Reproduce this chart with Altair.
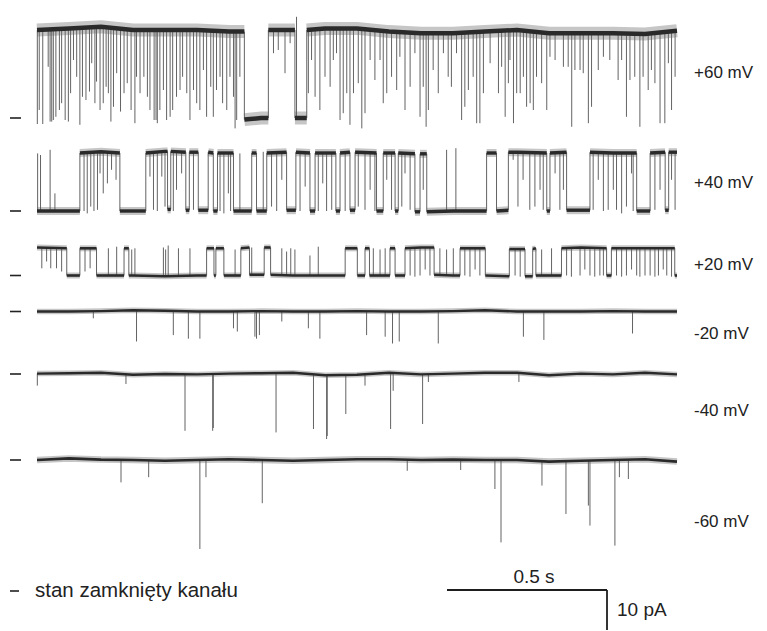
import altair as alt
import pandas as pd

# ---------------- data ----------------
trace_names = ["+60 mV", "+40 mV", "+20 mV", "-20 mV", "-40 mV", "-60 mV"]
open_pA = [22.0, 14.5, 6.8, -7.0, -14.5, -22.0]  # unitary open-channel current
record_s = 2.0
wobble_step_s = 0.1

# open-state dwell intervals (s); everything else is the closed state
p60_open = [(0.0, 0.648), (0.723, 0.806), (0.843, 2.0)]
p40_open = [(0.134, 0.259), (0.340, 0.408), (0.418, 0.465), (0.476, 0.504), (0.535, 0.551),
            (0.564, 0.614), (0.671, 0.686), (0.718, 0.780), (0.809, 0.853), (0.869, 0.934),
            (0.947, 0.978), (0.994, 1.061), (1.082, 1.119), (1.129, 1.181), (1.197, 1.218),
            (1.405, 1.436), (1.473, 1.593), (1.603, 1.655), (1.728, 1.874), (1.916, 1.963),
            (1.974, 2.0)]
p20_open = [(0.0, 0.093), (0.134, 0.186), (0.272, 0.287), (0.530, 0.553), (0.559, 0.584),
            (0.637, 0.664), (0.710, 0.730), (0.963, 1.001), (1.025, 1.039), (1.103, 1.119),
            (1.150, 1.241), (1.322, 1.401), (1.476, 1.525), (1.549, 1.559), (1.639, 1.780),
            (1.795, 1.993)]
m20_open = []
m40_open = []
m60_open = []

# brief events: (time s, current reached pA)
p60_events = [(0.001, -1.5), (0.007, 2), (0.018, -1.5), (0.035, 12.8), (0.041, -0.9), (0.046, -0.9),
              (0.051, -0.5), (0.059, 0.3), (0.070, 2), (0.077, 3.7), (0.088, -0.5), (0.098, -0.9),
              (0.105, 6.2), (0.114, 14.5), (0.124, 10.3), (0.134, -1.7), (0.142, 5.3), (0.153, 4.5),
              (0.164, 6.6), (0.171, 13.7), (0.181, 3.7), (0.186, 9.1), (0.197, 2), (0.207, 3.7),
              (0.216, 7.8), (0.223, 6.2), (0.231, -0.9), (0.239, 2.8), (0.249, 11.2), (0.261, 1.6),
              (0.272, 6.2), (0.282, 8.7), (0.294, 2), (0.306, -1.3), (0.311, 10.3), (0.322, 6.2),
              (0.334, 10.3), (0.345, 5.3), (0.353, 2), (0.366, -0.5), (0.372, -0.5), (0.376, -1.3),
              (0.384, 2), (0.395, 7), (0.405, -0.5), (0.416, 0.3), (0.424, 2), (0.436, 5.3),
              (0.447, 7), (0.455, 10.3), (0.468, 6.2), (0.478, -0.5), (0.489, 7), (0.499, 3.7),
              (0.509, 2), (0.520, 12), (0.530, 0.3), (0.543, 7.8), (0.551, 0.3), (0.561, 7),
              (0.572, 10.3), (0.580, 3.7), (0.593, 2), (0.603, 10.3), (0.614, 5.3), (0.619, -2.6),
              (0.624, -0.5), (0.634, 10.3), (0.739, 16.2), (0.754, 17), (0.775, 11.2), (0.791, 18.7),
              (0.811, 25.3), (0.848, 6.2), (0.858, 14.5), (0.869, 5.3), (0.884, 2), (0.900, 10.3),
              (0.916, 7.8), (0.926, 14.5), (0.936, 16.2), (0.947, -0.5), (0.957, 1.2), (0.968, 6.2),
              (0.978, -1.7), (0.989, 6.2), (1.004, 8.7), (1.015, -2.6), (1.025, 1.2), (1.041, 14.5),
              (1.056, 9.5), (1.072, 14.5), (1.082, 3.7), (1.093, 6.2), (1.108, 10.3), (1.124, 7),
              (1.134, 15.3), (1.150, 2), (1.166, 7.8), (1.181, 16.2), (1.197, 0.3), (1.207, 7.8),
              (1.216, -2.2), (1.223, 2), (1.238, 12), (1.254, 6.2), (1.270, 16.2), (1.285, 10.3),
              (1.295, 7.8), (1.311, 16.2), (1.327, -0.5), (1.337, 2.8), (1.348, 7), (1.363, 10.3),
              (1.374, -1.3), (1.384, -1.3), (1.395, 6.2), (1.416, 13.7), (1.442, 6.2), (1.452, 12.8),
              (1.463, 0.3), (1.473, 8.7), (1.478, 14.5), (1.489, -1.3), (1.499, 6.2), (1.510, 6.2),
              (1.520, 10.3), (1.530, 2.8), (1.541, 3.7), (1.551, 2), (1.561, 10.3), (1.577, 8.7),
              (1.593, 2), (1.603, 15.3), (1.619, 14.5), (1.645, 12.8), (1.660, 12.8), (1.671, -2.2),
              (1.681, 12), (1.697, 12), (1.707, 11.2), (1.723, -1.3), (1.733, 2.8), (1.754, 12),
              (1.770, 15.3), (1.790, 14.5), (1.816, 9.5), (1.827, 14.5), (1.842, 0.3), (1.853, 9.5),
              (1.868, 10.3), (1.884, -2.2), (1.894, 10.3), (1.910, 7), (1.920, 12), (1.931, 8.7),
              (1.947, -1.3), (1.962, -1.3), (1.973, 13.7), (1.983, 2), (1.994, 10.3)]
p40_events = [(0.002, 14.4), (0.011, 14.0), (0.041, 15.3), (0.056, 4.4), (0.147, 0), (0.157, -0.6),
              (0.168, 1.1), (0.178, 0), (0.189, 0.3), (0.197, 9.4), (0.207, 4.4), (0.220, 6.9),
              (0.233, 10.3), (0.247, 7.8), (0.353, 8.6), (0.364, 0.3), (0.376, 0), (0.390, 8.6),
              (0.400, 1.1), (0.426, 0), (0.436, 5.3), (0.452, 9.4), (0.489, 0.3), (0.572, 0),
              (0.584, -0.6), (0.598, 4.4), (0.605, 0), (0.634, 14.4), (0.707, 14.8), (0.733, 1.1),
              (0.749, 0), (0.765, 7.8), (0.822, 0), (0.838, 6.1), (0.879, 0), (0.893, 6.9),
              (0.905, 0), (0.921, 0.3), (0.963, 0), (1.004, 1.1), (1.025, 0.3), (1.041, 5.3),
              (1.056, 0), (1.093, 7.8), (1.108, 0.3), (1.140, 1.1), (1.150, 9.4), (1.166, 0.3),
              (1.207, 5.3), (1.280, 15.3), (1.309, 15.7), (1.488, 12.8), (1.503, 1.1), (1.519, 7.8),
              (1.540, 0.3), (1.556, 1.1), (1.572, 5.3), (1.582, 0.3), (1.619, 9.4), (1.634, 0.3),
              (1.645, 5.3), (1.738, 0.3), (1.754, 7.8), (1.770, 0), (1.785, 0.3), (1.801, 5.3),
              (1.811, 0.3), (1.827, -0.6), (1.842, 1.1), (1.858, 9.4), (1.863, 0), (1.931, 0.3),
              (1.947, 5.3), (1.983, 7.8), (1.994, 0.3)]
p20_events = [(0.223, 6.8), (0.249, 7.2), (0.296, 6.5), (0.306, 6.8), (0.395, 7.0), (0.402, 6.5),
              (0.410, 7.5), (0.442, 6.8), (0.478, 6.8), (0.619, 6.5), (0.671, 7.0), (0.765, 6.8),
              (0.780, 6.0), (0.793, 6.8), (0.806, 6.5), (0.853, 5.0), (0.879, 7.2), (1.051, 6.8),
              (1.072, 6.5), (1.088, 6.8), (1.259, 6.8), (1.280, 6.5), (1.301, 6.8), (1.577, 6.5),
              (1.608, 6.8), (0.015, 1.8), (0.030, 3.5), (0.043, 1.8), (0.061, 1.8), (0.077, 1.0),
              (0.150, 1.0), (0.166, 1.8), (1.166, 0), (1.181, -0.3), (1.197, 0), (1.213, 1.5),
              (1.228, 0), (1.337, 0), (1.353, -0.3), (1.369, 1.5), (1.384, 0), (1.494, 0),
              (1.510, -0.3), (1.655, 0), (1.670, -0.3), (1.697, 0), (1.712, 1.5), (1.728, 0),
              (1.743, -0.3), (1.759, 0), (1.770, 0), (1.811, 0), (1.827, -0.3), (1.842, 0),
              (1.858, 1.5), (1.874, 0), (1.884, -0.3), (1.900, 0), (1.916, 0), (1.931, -0.3),
              (1.942, 0), (1.957, 1.5), (1.968, 0), (1.983, -0.3)]
m20_events = [(0.176, -1.7), (0.311, -7.5), (0.426, -5.9), (0.473, -6.8), (0.509, -6.8), (0.614, -4.2),
              (0.626, -5.0), (0.681, -6.3), (0.686, -6.8), (0.695, -5.9), (0.765, -2.5), (0.848, -4.2),
              (0.884, -6.8), (1.030, -5.9), (1.088, -6.3), (1.111, -8.0), (1.132, -7.5), (1.254, -8.0),
              (1.520, -6.3), (1.584, -7.1), (1.861, -5.5)]
m40_events = [(0.001, -2.9), (0.278, -2.5), (0.4625, -14.2), (0.549, -14.2), (0.551, -13.5),
              (0.747, -14.6), (0.864, -13.75), (0.905, -16.25), (0.907, -15.5), (0.965, -10.0),
              (1.025, -2.9), (1.105, -13.75), (1.113, -4.2), (1.205, -12.5), (1.223, -2.0), (1.506, -2.0)]
m60_events = [(0.2625, -5.6), (0.349, -4.3), (0.509, -22.25), (0.528, -4.3), (0.704, -10.8),
              (1.157, -2.7), (1.324, -2.5), (1.431, -7.25), (1.450, -20.6), (1.578, -6.4),
              (1.653, -13.5), (1.723, -11.4), (1.728, -16.4), (1.806, -21.4), (1.820, -4.3),
              (1.848, -4.75)]

# slow baseline drift (pA), one value every 0.1 s
p60_wobble = [0, 0.4, 0.8, 0, 0, 0, -0.4, 0, 0, 0.4, 0.4, -0.4, -0.8, -0.8, -0.4, 0, -0.8, -0.8, -0.8, -1.0, -0.2]
p40_wobble = [0, 0, 0.3, 0, 0.4, 0.2, 0, 0, 0.2, 0, 0.2, 0, -0.2, 0, 0, 0.2, 0, 0.2, 0, 0, 0.2]
p20_wobble = [0.2, 0, 0, 0, -0.2, 0, 0, 0.2, 0, 0, 0, 0, 0.2, 0, 0, -0.2, 0, 0.2, 0, 0, 0]
m20_wobble = [0, 0, 0.1, 0.3, 0.2, 0, 0, 0.1, 0, 0, 0.1, 0, 0, 0.1, 0.3, 0, 0, 0, 0.1, 0, 0]
m40_wobble = [0.1, 0.2, 0.3, -0.2, 0, -0.1, 0.1, 0.2, 0.3, -0.3, -0.2,
              0.3, -0.1, 0.1, 0.3, 0.3, -0.3, 0.1, -0.1, 0.3, -0.1]
m60_wobble = [0, 0.4, 0.1, 0, -0.2, 0, 0.2, 0, -0.2, 0, 0.2, 0.2, 0, 0.1, 0, 0, -0.4, -0.2, 0, 0.2, -0.4]

scale_bar_s = 0.5
scale_bar_pA = 10
scale_time_label = "0.5 s"
scale_current_label = "10 pA"
closed_label = "stan zamknięty kanału"

# ---------------- layout ----------------
W, H = 767, 631
X0_PX, PX_PER_S, PX_PER_PA = 37, 320, 4
closed_row_px = [118, 211, 275.5, 311.5, 374, 460]
core_px = [4.5, 3.4, 2.6, 2.4, 2.4, 2.6]
halo_px = [13, 8, 6, 5.5, 5.5, 6.5]
label_y_px = [73, 183, 265, 334, 411, 522]
FONT = "Liberation Sans"


def px_t(px):
    return (px - X0_PX) / PX_PER_S


def px_v(px):
    return -px / PX_PER_PA


open_sets = [p60_open, p40_open, p20_open, m20_open, m40_open, m60_open]
event_sets = [p60_events, p40_events, p20_events, m20_events, m40_events, m60_events]
wobble_sets = [p60_wobble, p40_wobble, p20_wobble, m20_wobble, m40_wobble, m60_wobble]

seg_rows, rule_rows, mark_rows = [], [], []
for i, name in enumerate(trace_names):
    off = closed_row_px[i] / PX_PER_PA
    wob = wobble_sets[i]
    amp = open_pA[i]
    segs, cur = [], 0.0
    for a, b in open_sets[i]:
        if a > cur:
            segs.append((cur, a, 0.0))
        segs.append((a, b, amp))
        cur = b
    if cur < record_s:
        segs.append((cur, record_s, 0.0))

    def wv(t, wob=wob):
        return wob[min(len(wob) - 1, int(round(t / wobble_step_s)))]

    def level(t, segs=segs):
        for a, b, L in segs:
            if a <= t <= b:
                return L
        return 0.0

    for j, (a, b, L) in enumerate(segs):
        ts = [a] + [round(k * wobble_step_s, 4) for k in range(len(wob))
                    if a < round(k * wobble_step_s, 4) < b] + [b]
        for t in ts:
            seg_rows.append(dict(seg=f"{i}-{j}", t=t, v=L + wv(t) - off,
                                 core=core_px[i], halo=halo_px[i]))
    for j in range(1, len(segs)):
        t = segs[j][0]
        rule_rows.append(dict(t=t, v1=segs[j - 1][2] + wv(t) - off, v2=segs[j][2] + wv(t) - off))
    for t, c in event_sets[i]:
        rule_rows.append(dict(t=t, v1=level(t) + wv(t) - off, v2=c - off))
    mark_rows.append(dict(v=-off))

seg_df = pd.DataFrame(seg_rows)
rule_df = pd.DataFrame(rule_rows)
mark_df = pd.DataFrame(mark_rows)

xs = alt.Scale(domain=[px_t(0), px_t(W)], nice=False, zero=False)
ys = alt.Scale(domain=[px_v(H), 0], nice=False, zero=False)

halo = alt.Chart(seg_df).mark_line(color="#a0a0a0", strokeCap="butt", opacity=0.6).encode(
    x=alt.X("t:Q", scale=xs, axis=None),
    y=alt.Y("v:Q", scale=ys, axis=None),
    detail="seg:N",
    strokeWidth=alt.StrokeWidth("halo:Q", scale=None),
)

spikes = alt.Chart(rule_df).mark_rule(color="#636363", strokeWidth=1).encode(
    x=alt.X("t:Q", scale=xs, axis=None),
    y=alt.Y("v1:Q", scale=ys, axis=None),
    y2="v2:Q",
)

bands = alt.Chart(seg_df).mark_line(color="#2a2a2a", strokeCap="butt").encode(
    x=alt.X("t:Q", scale=xs, axis=None),
    y=alt.Y("v:Q", scale=ys, axis=None),
    detail="seg:N",
    strokeWidth=alt.StrokeWidth("core:Q", scale=None),
)

mark_df["t1"] = px_t(10)
mark_df["t2"] = px_t(21)
markers = alt.Chart(mark_df).mark_rule(color="#222222", strokeWidth=1.6).encode(
    x=alt.X("t1:Q", scale=xs, axis=None), x2="t2:Q",
    y=alt.Y("v:Q", scale=ys, axis=None),
)

lab_df = pd.DataFrame(dict(text=trace_names, t=px_t(694), v=[px_v(p) for p in label_y_px]))
labels = alt.Chart(lab_df).mark_text(
    align="left", baseline="middle", font=FONT, fontSize=17, color="#222222"
).encode(x=alt.X("t:Q", scale=xs, axis=None), y=alt.Y("v:Q", scale=ys, axis=None), text="text:N")

# closed-state legend
leg_df = pd.DataFrame(dict(t1=[px_t(10)], t2=[px_t(19)], v=[px_v(591)], tt=[px_t(35)], text=[closed_label]))
leg_dash = alt.Chart(leg_df).mark_rule(color="#222222", strokeWidth=1.6).encode(
    x=alt.X("t1:Q", scale=xs, axis=None), x2="t2:Q", y=alt.Y("v:Q", scale=ys, axis=None))
leg_text = alt.Chart(leg_df).mark_text(
    align="left", baseline="middle", font=FONT, fontSize=20.5, color="#222222"
).encode(x=alt.X("tt:Q", scale=xs, axis=None), y=alt.Y("v:Q", scale=ys, axis=None), text="text:N")

# scale bar
t0 = px_t(447)
v0 = px_v(590)
bar_df = pd.DataFrame(dict(
    ta=[t0, t0 + scale_bar_s], tb=[t0 + scale_bar_s, t0 + scale_bar_s],
    va=[v0, v0], vb=[v0, v0 - scale_bar_pA]))
bar = alt.Chart(bar_df).mark_rule(color="#1e1e1e", strokeWidth=1.8).encode(
    x=alt.X("ta:Q", scale=xs, axis=None), x2="tb:Q",
    y=alt.Y("va:Q", scale=ys, axis=None), y2="vb:Q")
bar_txt_df = pd.DataFrame(dict(
    text=[scale_time_label, scale_current_label],
    t=[t0 + scale_bar_s / 2 + px_t(534) - px_t(527), t0 + scale_bar_s + px_t(617) - px_t(607)],
    v=[v0 + px_v(577) - px_v(590), v0 - scale_bar_pA / 2]))
bar_t1 = alt.Chart(bar_txt_df.iloc[[0]]).mark_text(
    align="center", baseline="middle", font=FONT, fontSize=19, color="#222222"
).encode(x=alt.X("t:Q", scale=xs, axis=None), y=alt.Y("v:Q", scale=ys, axis=None), text="text:N")
bar_t2 = alt.Chart(bar_txt_df.iloc[[1]]).mark_text(
    align="left", baseline="middle", font=FONT, fontSize=19, color="#222222"
).encode(x=alt.X("t:Q", scale=xs, axis=None), y=alt.Y("v:Q", scale=ys, axis=None), text="text:N")

chart = alt.layer(halo, spikes, bands, markers, labels, leg_dash, leg_text, bar, bar_t1, bar_t2).properties(
    width=W, height=H, autosize=alt.AutoSizeParams(type="none"), padding=0, background="white"
).configure_view(stroke=None)

chart.save("out.html", embed_options={"renderer": "svg", "actions": False})
